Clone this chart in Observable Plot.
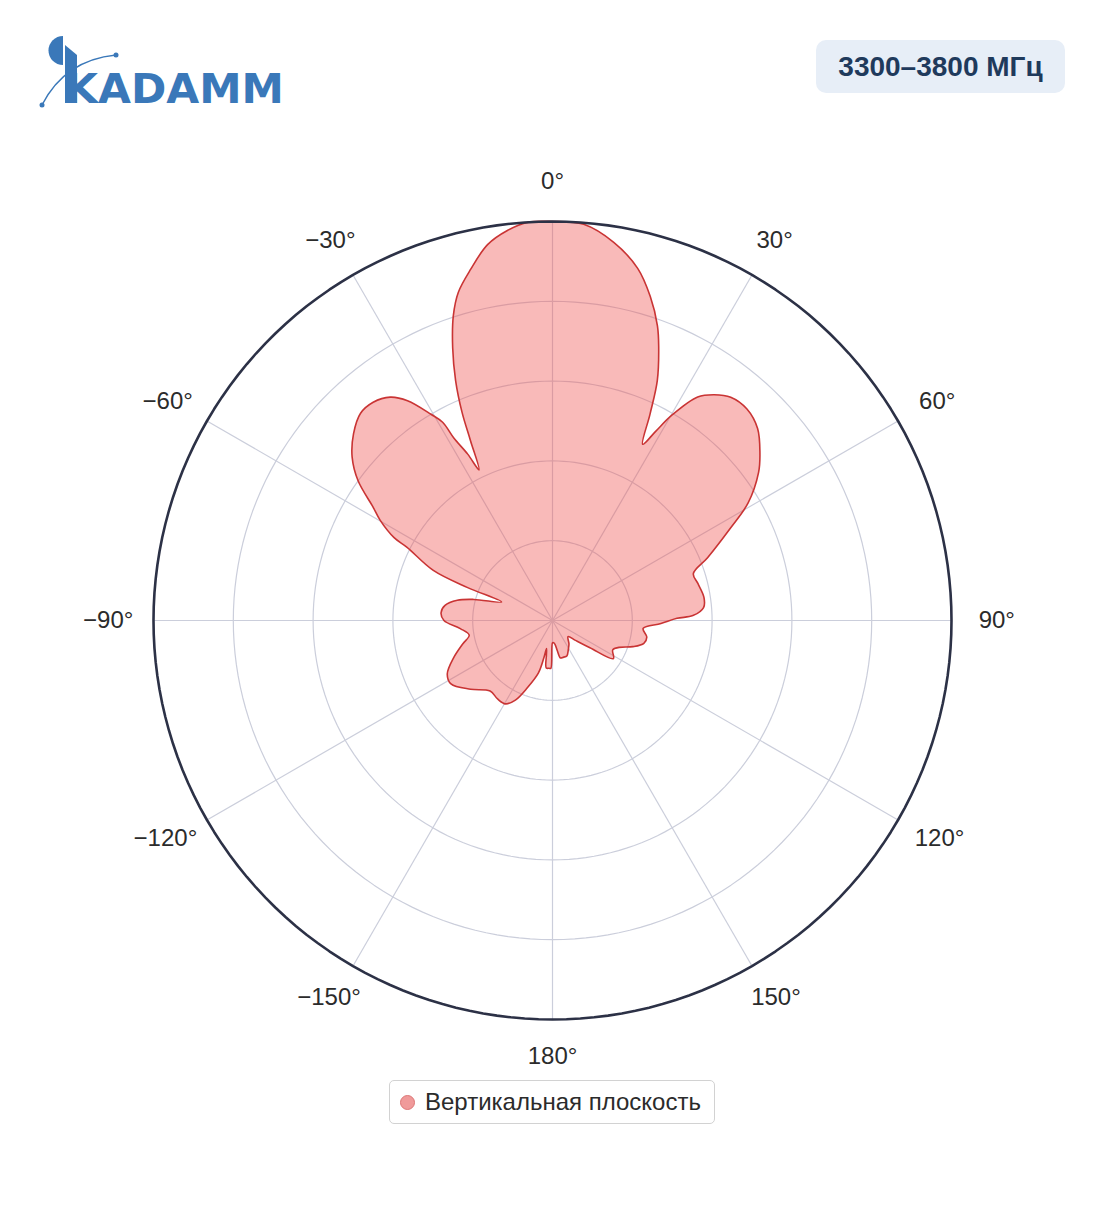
<!DOCTYPE html>
<html>
<head>
<meta charset="utf-8">
<script src="https://cdn.jsdelivr.net/npm/d3@7"></script>
<script src="https://cdn.jsdelivr.net/npm/@observablehq/plot@0.6"></script>
<style>
  html, body { margin: 0; padding: 0; background: #fff; }
  #page { position: relative; width: 1104px; height: 1211px; background: #fff; font-family: "Liberation Sans", Arial, sans-serif; overflow: hidden; }
  #logo { position: absolute; left: 0; top: 0; }
  #badge { position: absolute; left: 816px; top: 40px; width: 249px; height: 53px; background: #e7eef7; border-radius: 10px;
           display: flex; align-items: center; justify-content: center; font-weight: bold; font-size: 28px; color: #1f3a5c; }
  #chart { position: absolute; left: 0; top: 0; }
  #legend { position: absolute; left: 389px; top: 1080px; width: 324px; height: 42px; border: 1px solid #d2d2d2; border-radius: 5px;
            display: flex; align-items: center; font-size: 24px; color: #2b2b2b; }
  #legend .dot { width: 15px; height: 15px; border-radius: 50%; background: #f09a9a; border: 1px solid #dd7676; margin-left: 10px; margin-right: 10px; box-sizing: border-box; }
</style>
</head>
<body>
<div id="page">
  <svg id="logo" width="320" height="120">
    <path d="M63,36 A14.5,14.5 0 0,0 63,65 Z" fill="#3a78b9"/>
    <polygon points="65,45 77,55 77,103 65,103" fill="#3a78b9"/>
    <text x="65" y="103" font-family="DejaVu Sans" font-weight="bold" font-size="41" fill="#3a78b9" textLength="219" lengthAdjust="spacingAndGlyphs">KADAMM</text>
    <path d="M42,105 Q65,60 116,55" fill="none" stroke="#3a78b9" stroke-width="1.5"/>
    <circle cx="42" cy="105" r="2.5" fill="#3a78b9"/>
    <circle cx="116" cy="55" r="2.5" fill="#3a78b9"/>
  </svg>
  <div id="badge">3300–3800 МГц</div>
  <div id="chart"></div>
  <div id="legend"><span class="dot"></span><span>Вертикальная плоскость</span></div>
</div>
<script>
// ---- data ----
const seriesName = "Вертикальная плоскость";
const angles = [
  -178, -176, -172.5, -170, -168, -167, -165, -159.5, -155, -150.5, -145, -138.5, -130, -122, -117, -110.5, -104.5, -100, -95,
  -90, -86, -82, -78, -75, -70, -68.8, -67.2, -63.3, -62.4, -59.8, -57.7, -54.3, -50.8, -46.8, -42.8, -39.4, -36, -33.4,
  -30.5, -29, -28.4, -27, -26, -24.5, -23.5, -22, -20.1, -18, -16, -13.1, -9.8, -6.6, -3.5, 0,
  4.5, 9.2, 13.6, 16.8, 19.6, 21.2, 23.6, 25.3, 27.1, 28.6, 30.2, 33, 35.6, 38.6, 42.6, 46.9, 51.1, 54.3, 59, 62.7,
  67.9, 71.6, 75.7, 81.3, 85.1, 88, 89, 91.6, 95, 100, 104, 108, 112, 116, 122, 126, 131, 136, 145, 152, 158, 163,
  168, 171, 174, 177, 180
];
const gainDb = [
  -22.0, -22.0, -22.0, -22.8, -23.2, -22.6, -21.6, -20.5, -19.5, -19.0, -19.0, -19.1, -18.3, -17.5, -17.6, -18.4, -19.2, -19.7, -19.2,
  -18.2, -18.0, -18.2, -18.9, -19.9, -21.6, -19.3, -16.9, -14.8, -13.8, -12.5, -11.7, -10.0, -8.8, -7.9, -7.3, -7.3, -7.7, -8.5,
  -10.0, -10.8, -12.0, -13.3, -14.5, -12.6, -10.8, -8.8, -6.8, -4.9, -3.6, -2.4, -1.1, -0.4, 0.0, 0.0,
  -0.1, -1.0, -2.3, -3.8, -5.4, -6.6, -8.6, -10.7, -12.6, -11.5, -10.1, -8.3, -7.6, -7.1, -7.0, -7.4, -8.3, -9.1, -10.7, -12.5,
  -14.5, -15.7, -15.6, -15.4, -15.5, -16.2, -17.2, -18.2, -19.3, -19.0, -19.1, -19.7, -20.5, -20.8, -20.5, -22.1, -23.1, -23.6, -23.2, -22.9, -22.6, -22.6,
  -22.6, -23.1, -23.5, -23.6, -23.6
];
const tickAngles = [0, 30, 60, 90, 120, 150, 180, -150, -120, -90, -60, -30];
const tickLabels = ["0°", "30°", "60°", "90°", "120°", "150°", "180°", "−150°", "−120°", "−90°", "−60°", "−30°"];
const ringDb = [-20, -15, -10, -5];
const radialRange = [-25, 0];

// ---- helpers ----
const rad = d => d * Math.PI / 180;
const rOf = db => db - radialRange[0];
const px = (a, db) => rOf(db) * Math.sin(rad(a));
const py = (a, db) => rOf(db) * Math.cos(rad(a));
const rMax = rOf(radialRange[1]);

const pattern = angles.map((a, i) => ({a, db: gainDb[i]}));
const circleAngles = d3.range(0, 360, 2);
const rings = ringDb.flatMap(db => circleAngles.map(a => ({ring: db, a, db})));
const outer = circleAngles.map(a => ({a, db: radialRange[1]}));

const fontSize = 24;
const fontFamily = '"Liberation Sans", Arial, sans-serif';
const ctx = document.createElement("canvas").getContext("2d");
ctx.font = `${fontSize}px ${fontFamily}`;
const labelDbTop = radialRange[1] + 1.7;   // label gap outside outer ring (upper half)
const labelDbBottom = radialRange[1] + 1.45; // slightly tighter in lower half

const labelMarks = tickAngles.map((a, i) => {
  const w = ctx.measureText(tickLabels[i].replace("−", "")).width;
  const h = fontSize * 1.1;
  const ldb = Math.abs(a) > 90 ? labelDbBottom : labelDbTop;
  return Plot.text([a], {
    x: d => px(d, ldb), y: d => py(d, ldb), text: () => tickLabels[i],
    dx: (w / 2) * Math.sin(rad(a)), dy: -(h / 2) * Math.cos(rad(a)),
    fontSize, fill: "#2b2b2b"
  });
});

const chart = Plot.plot({
  width: 1104,
  height: 1080,
  marginLeft: 153,
  marginRight: 153,
  marginTop: 221,
  marginBottom: 61,
  x: {domain: [-rMax, rMax], axis: null},
  y: {domain: [-rMax, rMax], axis: null},
  style: {fontFamily, background: "transparent"},
  marks: [
    Plot.line(rings, {x: d => px(d.a, d.db), y: d => py(d.a, d.db), z: "ring", curve: "linear-closed", stroke: "#cbcedb", strokeWidth: 1.2}),
    Plot.link(tickAngles, {x1: 0, y1: 0, x2: a => px(a, radialRange[1]), y2: a => py(a, radialRange[1]), stroke: "#cbcedb", strokeWidth: 1.2}),
    Plot.line(pattern, {x: d => px(d.a, d.db), y: d => py(d.a, d.db), curve: "catmull-rom-closed",
      fill: "rgb(239,83,80)", fillOpacity: 0.4, stroke: "#c93434", strokeWidth: 1.6}),
    Plot.line(outer, {x: d => px(d.a, d.db), y: d => py(d.a, d.db), curve: "linear-closed", stroke: "#2c3146", strokeWidth: 2.6}),
    ...labelMarks
  ]
});
document.getElementById("chart").appendChild(chart);
</script>
</body>
</html>
